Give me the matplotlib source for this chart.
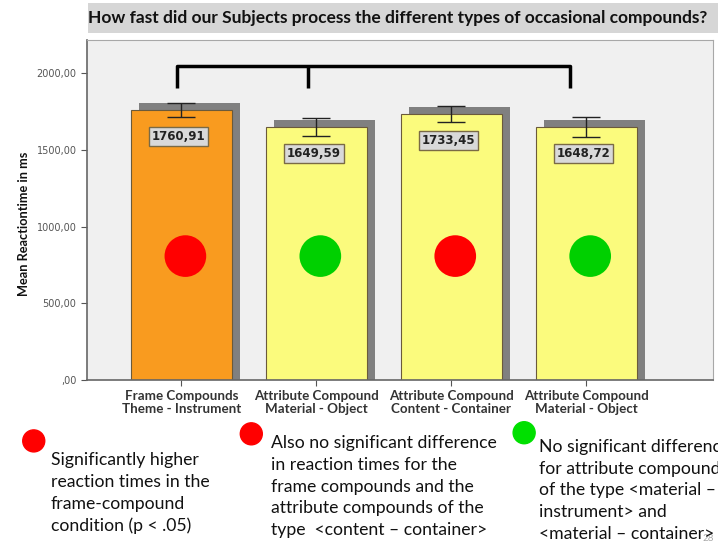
import numpy as np
import matplotlib.pyplot as plt
from matplotlib.patches import Rectangle

# data
categories = ['Frame Compounds\nTheme - Instrument', 'Attribute Compound\nMaterial - Object',
              'Attribute Compound\nContent - Container', 'Attribute Compound\nMaterial - Object']
means = [1760.91, 1649.59, 1733.45, 1648.72]
errors = [45, 58, 52, 66]
labels = ['1760,91', '1649,59', '1733,45', '1648,72']
bar_colors = ['#f99b1f', '#fbfb7d', '#fbfb7d', '#fbfb7d']
dot_colors = ['#ff0000', '#00d000', '#ff0000', '#00d000']
dot_level = 808
bracket_bars = [0, 1, 3]

notes = [
    ('#ff0000', 'Significantly higher\nreaction times in the\nframe-compound\ncondition (p < .05)'),
    ('#ff0000', 'Also no significant difference\nin reaction times for the\nframe compounds and the\n'
                'attribute compounds of the\ntype  <content \u2013 container>'),
    ('#00e000', 'No significant difference\nfor attribute compounds\nof the type <material \u2013\n'
                'instrument> and\n<material \u2013 container>'),
]

plt.rcParams['font.family'] = ['Lato', 'DejaVu Sans']

fig = plt.figure(figsize=(7.18, 5.45), dpi=100)
ax = fig.add_axes([0.121, 0.303, 0.872, 0.624])
ax.set_facecolor('#f0f0f0')

x = np.arange(len(categories))
w = 0.75
dx, dy = 0.06, 45

# shadow behind each bar
ax.bar(x + dx, np.array(means) + dy, w, color='#808080', zorder=1)
ax.bar(x, means, w, color=bar_colors, edgecolor='#6b5a3a', linewidth=0.8, zorder=2)
ax.errorbar(x, means, yerr=errors, fmt='none', ecolor='#222222', elinewidth=1,
            capsize=10, capthick=1, zorder=4)

for i in range(len(x)):
    ax.text(x[i] - 0.02, means[i] - 170, labels[i], ha='center', va='center',
            fontsize=8.5, fontweight='bold', family='DejaVu Sans', color='#222222', zorder=5,
            bbox=dict(boxstyle='square,pad=0.25', facecolor='#d9d9d9', edgecolor='#7a6a45', lw=1))

ax.scatter(x + 0.03, [dot_level] * len(x), s=900, c=dot_colors, zorder=5, linewidths=0)

# bracket over compared conditions
bx = [b - 0.03 - 0.03 * b for b in bracket_bars]
top, drop = 2050, 1905
ax.plot([bx[0], bx[0], bx[-1], bx[-1]], [drop, top, top, drop], color='black', lw=2.5,
        solid_joinstyle='round', solid_capstyle='butt', zorder=6)
for b in bx[1:-1]:
    ax.plot([b, b], [top, drop], color='black', lw=2.5, solid_capstyle='butt', zorder=6)

ax.set_xlim(-0.70, 3.94)
ax.set_ylim(0, 2220)
ax.set_yticks([0, 500, 1000, 1500, 2000])
ax.set_yticklabels([',00', '500,00', '1000,00', '1500,00', '2000,00'], fontsize=7,
                   color='#555555', family='DejaVu Sans')
ax.set_xticks(x)
ax.set_xticklabels(categories, fontsize=9.6, fontweight='bold', color='#333333',
                   linespacing=1.1)
ax.tick_params(axis='both', length=4, color='#555555', width=0.8)
ax.set_ylabel('Mean Reactiontime in ms', fontsize=9.2, fontweight='bold', color='#111111')
ax.yaxis.set_label_coords(-0.091, 0.46)
for s in ['top', 'right']:
    ax.spines[s].set_color('#a8a8a8')
for s in ['left', 'bottom']:
    ax.spines[s].set_color('#666666')
    ax.spines[s].set_linewidth(1.2)

# title banner
fig.patches.append(Rectangle((0.1226, 0.9394), 0.88, 0.055, transform=fig.transFigure,
                             facecolor='#d6d6d6', edgecolor='none', zorder=0))
fig.text(0.123, 0.967, 'How fast did our Subjects process the different types of occasional compounds?',
         fontsize=12.5, fontweight='bold', color='#111111', va='center', ha='left')

# notes below the chart
note_pos = [(0.047, 0.191, 0.071, 0.171), (0.350, 0.204, 0.377, 0.202),
            (0.730, 0.206, 0.751, 0.195)]
for (c, t), (cx, cy, tx, ty) in zip(notes, note_pos):
    fig.add_artist(plt.Circle((cx * 7.18, cy * 5.45), 0.11, color=c,
                              transform=fig.dpi_scale_trans))
    fig.text(tx, ty, t, fontsize=12.7, color='#111111', va='top', ha='left', linespacing=1.45)

fig.text(0.995, 0.004, '28', fontsize=7, color='#aaaaaa', ha='right', va='bottom', zorder=0)

fig.savefig('out.png', dpi=100)
